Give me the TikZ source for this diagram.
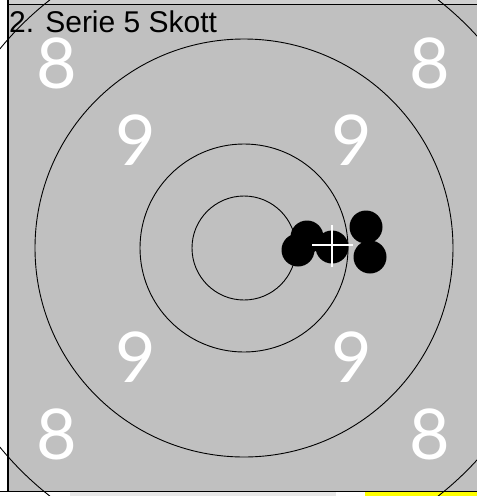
\documentclass[tikz,border=0pt]{standalone}
\usepackage{fontspec}
\setmainfont{Liberation Sans}
\newfontfamily\digitfont{Lato}
\definecolor{tgray}{HTML}{C0C0C0}
\definecolor{stripgray}{HTML}{D0D0D0}
\definecolor{tyellow}{HTML}{FFFF00}
\tikzset{
  ring/.style={draw=black, line width=0.9pt},
  shot/.style={circle, fill=black, minimum size=33pt, inner sep=0pt},
  ringnum/.style={text=white, font=\digitfont\fontsize{70}{70}\selectfont, inner sep=0pt, anchor=center},
  title/.style={text=black, font=\fontsize{30}{30}\selectfont, inner sep=0pt, anchor=base west},
  border/.style={draw=black, line width=1.8pt},
  crossline/.style={draw=white, line width=1.8pt}
}
\begin{document}
\begin{tikzpicture}[x=1pt,y=-1pt]
  \useasboundingbox (0,0) rectangle (477,496);
  % backgrounds
  \fill[white] (0,0) rectangle (477,496);
  \fill[stripgray] (8,0) rectangle (477,4.5);
  \fill[tgray] (8,4.5) rectangle (477,491);
  \fill[stripgray!50!white] (70,492) rectangle (336,496);
  \fill[tyellow] (365,492) rectangle (477,496);
  % rings
  \coordinate (c) at (244,248);
  \begin{scope}
    \clip (0,0) rectangle (477,496);
    \draw[ring] (c) circle[radius=315];
  \end{scope}
  \draw[ring] (c) circle[radius=209];
  \draw[ring] (c) circle[radius=104];
  \draw[ring] (c) circle[radius=52];
  % borders
  \draw[border] (8,0) -- (8,491.5);
  \draw[line width=1.4pt] (8,4.5) -- (477,4.5);
  \draw[border] (0,491.5) -- (477,491.5);
  % ring numbers
  \node[ringnum] (n8tl) at (57,63) {8};
  \node[ringnum] (n8tr) at (430,63) {8};
  \node[ringnum] (n8bl) at (57,434) {8};
  \node[ringnum] (n8br) at (430,434) {8};
  \node[ringnum] (n9tl) at (136,140) {9};
  \node[ringnum] (n9tr) at (352,140) {9};
  \node[ringnum] (n9bl) at (136,357) {9};
  \node[ringnum] (n9br) at (352,357) {9};
  % title
  \node[title] (ttl) at (9,32) {2. Serie 5 Skott};
  % shots
  \node[shot] (s1) at (298,250) {};
  \node[shot] (s2) at (307,237) {};
  \node[shot] (s3) at (332,247) {};
  \node[shot] (s4) at (366,227) {};
  \node[shot] (s5) at (370,257) {};
  % mean point cross
  \coordinate (mL) at (312,245);
  \coordinate (mR) at (353,245);
  \coordinate (mT) at (332,225);
  \coordinate (mB) at (332,267);
  \draw[crossline] (mL) -- (mR);
  \draw[crossline] (mT) -- (mB);
\end{tikzpicture}
\end{document}
